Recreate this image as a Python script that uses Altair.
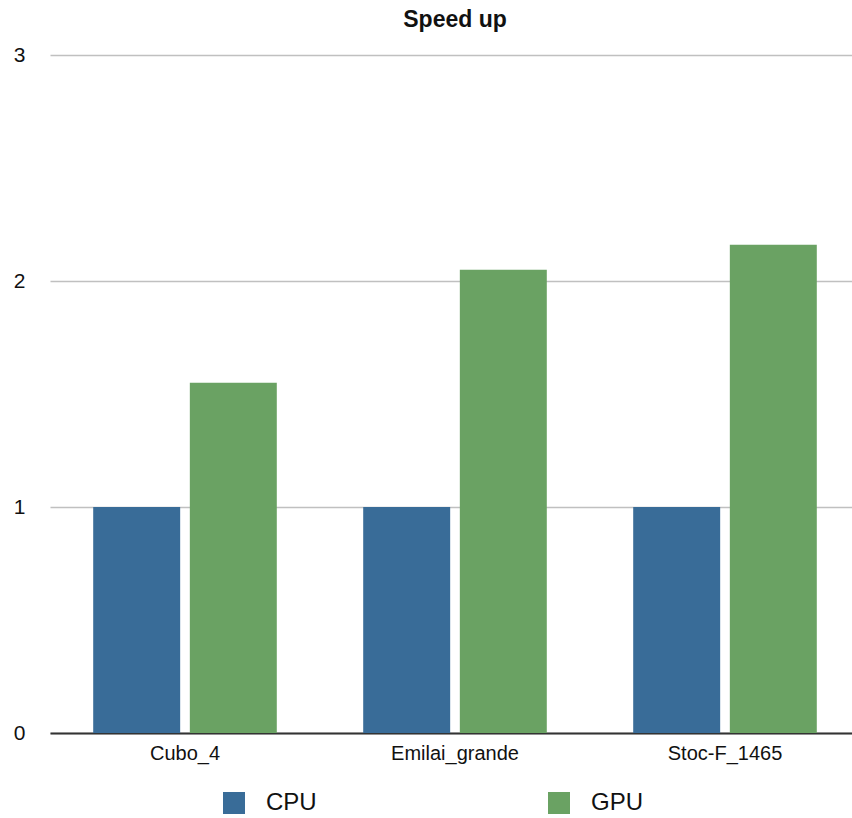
import altair as alt
import pandas as pd

# Benchmarks and measured speed-up per processor
benchmarks = ["Cubo_4", "Emilai_grande", "Stoc-F_1465"]
processors = ["CPU", "GPU"]
cpu_speedup = [1.0, 1.0, 1.0]
gpu_speedup = [1.55, 2.05, 2.16]
proc_colors = ["#396c98", "#6aa263"]

rows = []
for i, b in enumerate(benchmarks):
    rows.append({"bench": b, "proc": "CPU", "speedup": cpu_speedup[i]})
    rows.append({"bench": b, "proc": "GPU", "speedup": gpu_speedup[i]})
df = pd.DataFrame(rows)

FONT = "Liberation Sans"

chart = (
    alt.Chart(df)
    .mark_bar()
    .encode(
        x=alt.X(
            "bench:N",
            sort=benchmarks,
            scale=alt.Scale(range=[0, 810], paddingInner=0.32, paddingOuter=0.16),
            axis=alt.Axis(
                title=None,
                labelAngle=0,
                labelFontSize=20,
                labelFont=FONT,
                labelColor="#111111",
                labelPadding=10,
                ticks=False,
                domainColor="#333333",
                domainWidth=2,
            ),
        ),
        xOffset=alt.XOffset("proc:N", sort=processors, scale=alt.Scale(paddingInner=0.1)),
        y=alt.Y(
            "speedup:Q",
            scale=alt.Scale(domain=[0, 3], nice=False),
            axis=alt.Axis(
                title=None,
                values=[0, 1, 2, 3],
                format="d",
                labelFontSize=21,
                labelFont=FONT,
                labelColor="#111111",
                labelPadding=25,
                ticks=False,
                domain=False,
                gridColor="#c0c0c0",
                gridWidth=1.6,
            ),
        ),
        color=alt.Color(
            "proc:N",
            sort=processors,
            scale=alt.Scale(domain=processors, range=proc_colors),
            legend=alt.Legend(
                title=None,
                orient="none",
                direction="horizontal",
                legendX=172,
                legendY=736,
                symbolType="square",
                symbolSize=484,
                symbolStrokeWidth=0,
                labelFontSize=24,
                labelFont=FONT,
                labelColor="#111111",
                labelOffset=20,
                columnPadding=230,
            ),
        ),
    )
    .properties(
        width=802,
        height=678,
        title=alt.TitleParams(
            "Speed up",
            fontSize=23,
            fontWeight="bold",
            font=FONT,
            color="#111111",
            anchor="middle",
            dx=4,
            offset=12,
        ),
        autosize=alt.AutoSizeParams(type="none"),
        padding={"left": 50, "top": 55, "right": 0, "bottom": 85},
    )
    .configure_view(stroke=None)
)

chart.save("out.html", embed_options={"renderer": "svg", "actions": False})
